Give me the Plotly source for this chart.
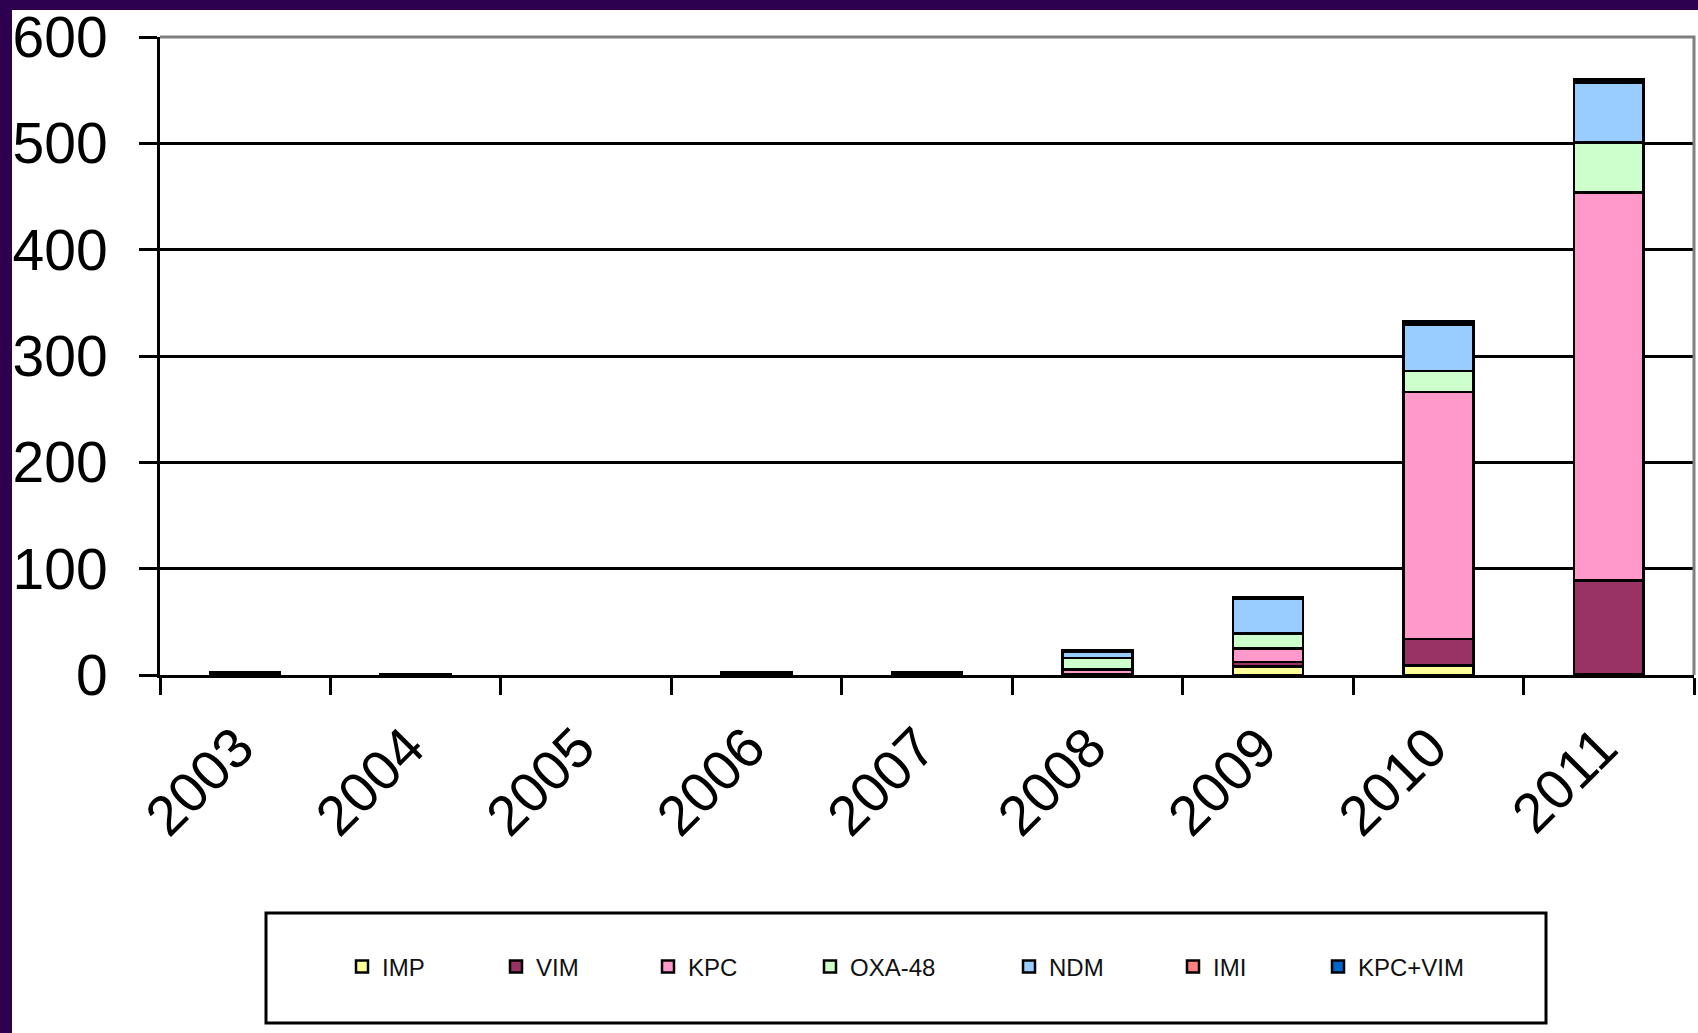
import plotly.graph_objects as go

# Carbapenemase-producing isolates per year, stacked by enzyme type
# (None = no isolates reported that year)
years = ["2003", "2004", "2005", "2006", "2007", "2008", "2009", "2010", "2011"]
imp = [0, 0, None, 0, 0, 0, 8, 9, 1]
vim = [2, 1, None, 1, 1, 1, 4, 25, 88]
kpc = [1, 0, None, 2, 2, 4, 13, 232, 365]
oxa48 = [0, 0, None, 0, 0, 11, 14, 20, 47]
ndm = [0, 0, None, 0, 0, 6, 33, 43, 56]
imi = [0, 0, None, 0, 0, 0, 1, 2, 0]
kpc_vim = [0, 0, None, 0, 0, 1, 0, 2, 3]

series_names = ["IMP", "VIM", "KPC", "OXA-48", "NDM", "IMI", "KPC+VIM"]
series_values = [imp, vim, kpc, oxa48, ndm, imi, kpc_vim]
series_colors = ["#FFFF99", "#993366", "#FF99CC", "#CCFFCC", "#99CCFF", "#FF8080", "#0066CC"]

W, H = 1698, 1033
ML, MR, MT, MB = 160, 4, 37, 358
PW, PH = W - ML - MR, H - MT - MB


def px_x(p):
    return (p - ML) / PW


def px_y(p):
    return (H - MB - p) / PH


FONT = "Liberation Sans, Arial, sans-serif"

fig = go.Figure()
legend_px = [362, 516, 668, 830, 1029, 1193, 1338]
for i, (name, vals, col) in enumerate(zip(series_names, series_values, series_colors)):
    lname = "legend" if i == 0 else f"legend{i + 1}"
    fig.add_trace(go.Bar(
        x=years, y=vals, name=name,
        marker=dict(color=col, line=dict(color="black", width=2.5)),
        width=0.41,
        legend=lname,
    ))

layout_legends = {}
for i, cx in enumerate(legend_px):
    lname = "legend" if i == 0 else f"legend{i + 1}"
    layout_legends[lname] = dict(
        x=px_x(cx - 20), xanchor="left",
        y=px_y(967), yanchor="middle",
        orientation="h",
        bgcolor="rgba(0,0,0,0)", borderwidth=0,
        font=dict(family=FONT, size=24, color="#111111"),
        itemclick=False, itemdoubleclick=False,
    )

shapes = [
    # gray frame along the top and right of the plotting area
    dict(type="path", xref="paper", yref="paper", path="M 0,1 L 1,1 L 1,0",
         line=dict(color="#808080", width=3), layer="above"),
    # legend box
    dict(type="rect", xref="paper", yref="paper",
         x0=px_x(266), x1=px_x(1546), y0=px_y(1023), y1=px_y(913),
         line=dict(color="black", width=3), fillcolor="rgba(0,0,0,0)", layer="below"),
    # slide border bands
    dict(type="rect", xref="paper", yref="paper",
         x0=px_x(-5), x1=px_x(W + 5), y0=px_y(10), y1=px_y(-5),
         line=dict(width=0), fillcolor="#2D0050", layer="above"),
    dict(type="rect", xref="paper", yref="paper",
         x0=px_x(-5), x1=px_x(12), y0=px_y(H + 5), y1=px_y(-5),
         line=dict(width=0), fillcolor="#2D0050", layer="above"),
]

fig.update_layout(
    width=W, height=H,
    margin=dict(l=ML, r=MR, t=MT, b=MB),
    paper_bgcolor="white", plot_bgcolor="white",
    barmode="stack",
    showlegend=True,
    shapes=shapes,
    font=dict(family=FONT, color="black"),
    **layout_legends,
)

fig.update_xaxes(
    type="category",
    tickangle=-45,
    tickfont=dict(family=FONT, size=56, color="black"),
    ticks="outside", tickson="boundaries", ticklen=17, tickwidth=3, tickcolor="black",
    ticklabelstandoff=14, ticklabelshift=-8,
    showline=True, linecolor="black", linewidth=3,
    showgrid=False,
)
fig.update_yaxes(
    range=[0, 600], dtick=100,
    tickfont=dict(family=FONT, size=57, color="black"),
    ticks="outside", ticklen=18, tickwidth=3, tickcolor="black",
    ticklabelstandoff=20,
    showline=True, linecolor="black", linewidth=3,
    showgrid=True, gridcolor="black", gridwidth=2.5,
    zeroline=False,
)

fig.write_html("out.html")
